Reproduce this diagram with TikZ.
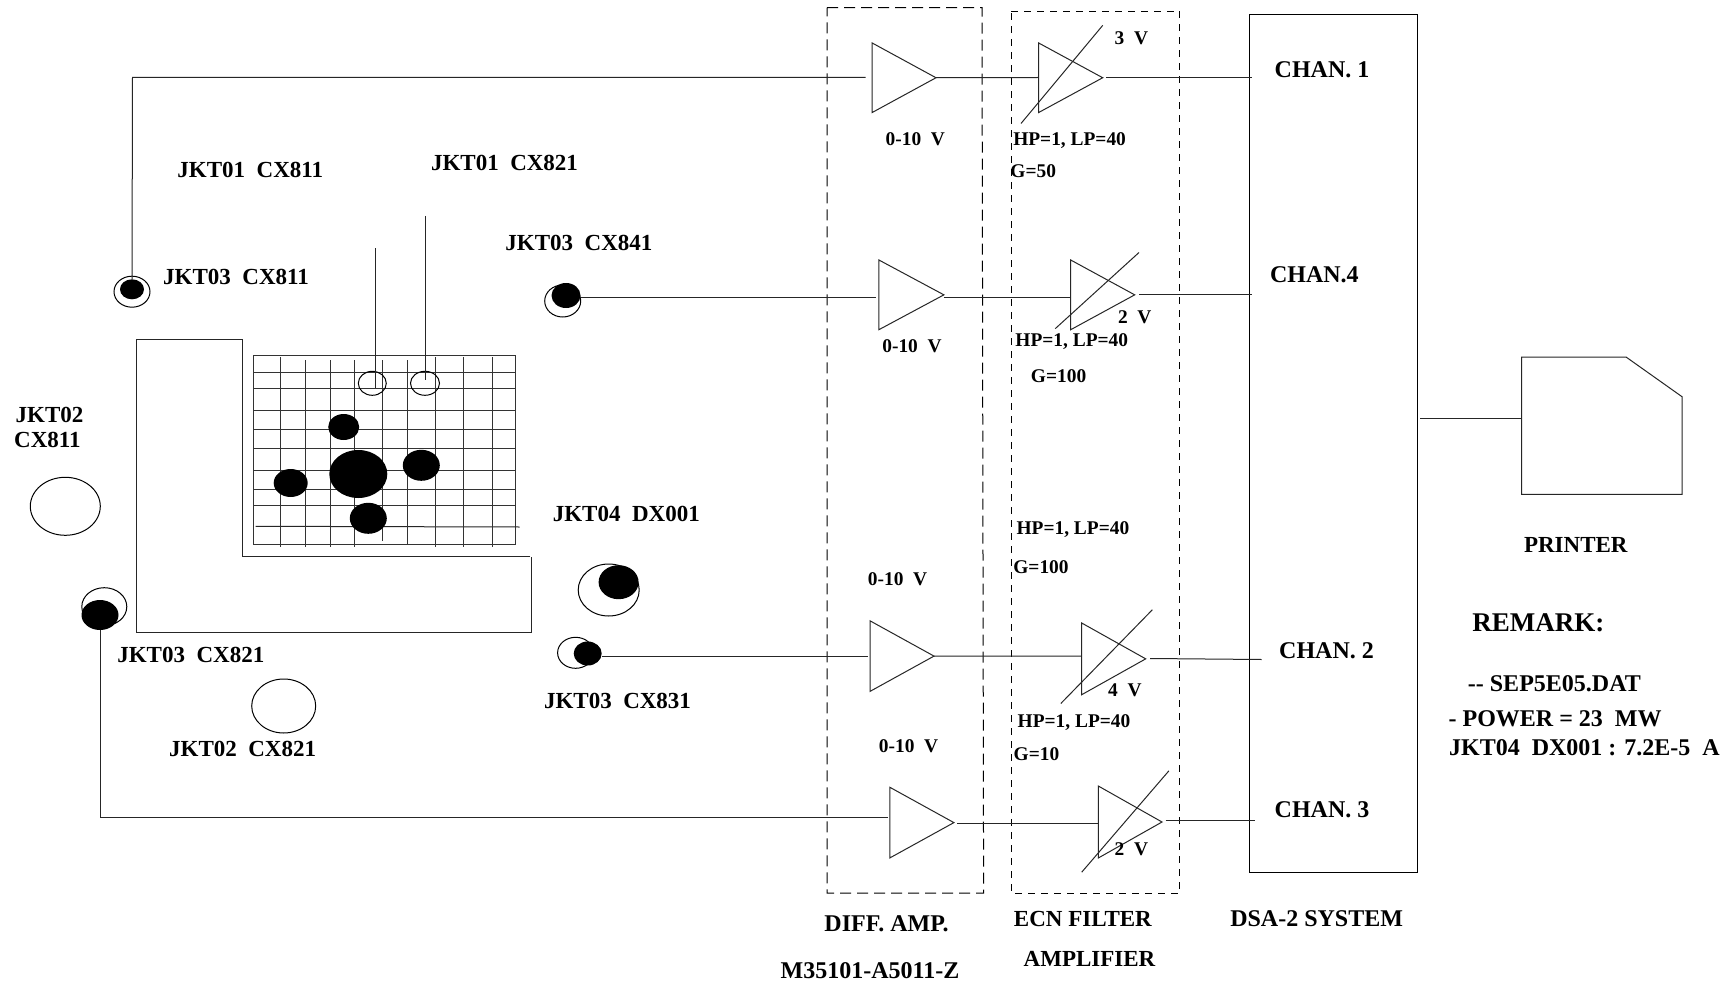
\documentclass[tikz,border=0pt]{standalone}
\usepackage{fontspec}
\setmainfont{Liberation Serif}
\usetikzlibrary{shapes.geometric}
\tikzset{
  wire/.style={line width=1pt,black!85},
  gridline/.style={line width=1pt,black!80},
  frame/.style={line width=1pt,black!85},
  longdash/.style={line width=1pt,dash pattern=on 11pt off 6pt},
  shortdash/.style={line width=.9pt,dash pattern=on 7pt off 6pt},
  hollow/.style={ellipse,draw,line width=1pt,inner sep=0pt,fill=white},
  solid dot/.style={ellipse,fill=black,inner sep=0pt},
  lab/.style={font=\bfseries\fontsize{23}{23}\selectfont,inner sep=0pt},
  sm/.style={font=\bfseries\fontsize{19.4}{20}\selectfont,inner sep=0pt},
  capt/.style={font=\bfseries\fontsize{24}{24}\selectfont,inner sep=0pt},
  big/.style={font=\bfseries\fontsize{27}{27}\selectfont,inner sep=0pt},
}
% name, x, top, bottom, tip x
\newcommand{\tri}[5]{%
  \coordinate (#1a) at (#2,#3);
  \coordinate (#1b) at (#2,#4);
  \coordinate (#1t) at (#5,{(#3+#4)/2});
  \draw[wire] (#1a) -- (#1t) -- (#1b) -- cycle;
}
\begin{document}
\begin{tikzpicture}[x=1pt,y=-1pt]
\useasboundingbox[fill=white] (0,0) rectangle (1729,984);

% enclosure
\draw[frame] (530.3,556.7) -- (242.3,556.7) -- (242.3,339) -- (136,339) -- (136,632.7) -- (531,632.7) -- (531,556.7);

% grid
\draw[gridline] (253.5,355.3) rectangle (515.7,544);
\foreach \yy in {372.3,388.7,410.7,429.3,448.7,470.3,489.3,505.7}
  \draw[gridline] (253.5,\yy) -- (515.7,\yy);
\draw[wire] (255.5,526.3) -- (519.5,527);
\foreach \xx/\ya/\yb in {280.7/357/547,305/360/547,330/360/547,354/360/547,382.7/360/541,407/360/544,435.7/357/547,463.7/357/547,492.3/357/547}
  \draw[gridline] (\xx,\ya) -- (\xx,\yb);

% array dots
\node[solid dot,minimum width=31pt,minimum height=26pt] (d1) at (343.7,427) {};
\node[solid dot,minimum width=58pt,minimum height=48pt] (d2) at (358.3,474) {};
\node[solid dot,minimum width=37pt,minimum height=31pt] (d3) at (421.3,465.3) {};
\node[solid dot,minimum width=34pt,minimum height=28pt] (d4) at (290.7,483) {};
\node[solid dot,minimum width=37pt,minimum height=31pt] (d5) at (368.3,518.3) {};
\node[hollow,fill=none,minimum width=28pt,minimum height=24pt] (c1) at (372.3,383.3) {};
\node[hollow,fill=none,minimum width=29pt,minimum height=24pt] (c2) at (425,383.3) {};
\coordinate (c1top) at (375.7,248.3);
\coordinate (c1end) at (375.7,388);
\coordinate (c2top) at (425,216);
\coordinate (c2end) at (425,380);
\draw[wire] (c1top) -- (c1end);
\draw[wire] (c2top) -- (c2end);

% sensors
\node[hollow,minimum width=36pt,minimum height=31pt] (s1h) at (132,291.7) {};
\node[solid dot,minimum width=24pt,minimum height=20pt] (s1) at (132,289.3) {};
\node[hollow,minimum width=36pt,minimum height=32pt] (s2h) at (562.7,301) {};
\node[solid dot,minimum width=29pt,minimum height=25pt] (s2) at (566,295.5) {};
\node[hollow,minimum width=36pt,minimum height=31pt] (s3h) at (575.6,652.8) {};
\node[solid dot,minimum width=28pt,minimum height=24pt] (s3) at (587.7,653.5) {};
\node[hollow,minimum width=45pt,minimum height=38pt] (s4h) at (104.3,606.7) {};
\node[solid dot,minimum width=37pt,minimum height=30pt] (s4) at (100,615) {};
\node[hollow,minimum width=61pt,minimum height=52pt] (s5h) at (608.7,590) {};
\node[solid dot,minimum width=40pt,minimum height=34pt] (s5) at (618.6,582.2) {};
\node[hollow,minimum width=70pt,minimum height=58pt] (e1) at (65.3,506.3) {};
\node[hollow,minimum width=64pt,minimum height=54pt] (e2) at (283.7,706) {};

% dashed groups
\draw[longdash] (827,7.7) -- (982,7.7) -- (983.6,893.2) -- (827,893.2) -- cycle;
\draw[shortdash] (1011.2,11) -- (1179.9,11) -- (1179.9,893.2) -- (1011.2,893.2) -- cycle;

% amplifiers and filters
\tri{a1}{872.2}{43}{112.5}{936}
\tri{f1}{1038.7}{43}{112.5}{1102.7}
\tri{a2}{878.9}{260}{329.7}{943.9}
\tri{f2}{1070.7}{260}{329.7}{1134.7}
\tri{a3}{870}{620.8}{691.4}{934}
\tri{f3}{1081.7}{623}{694.7}{1145.7}
\tri{a4}{889.9}{787.3}{857.9}{953.9}
\tri{f4}{1098.3}{786}{858}{1162}

\coordinate (k1a) at (1021,123.5);   \coordinate (k1b) at (1102.7,25.4);
\coordinate (k2a) at (1055.3,328.6); \coordinate (k2b) at (1139,252.5);
\coordinate (k3a) at (1060.8,703.5); \coordinate (k3b) at (1152.3,609.8);
\coordinate (k4a) at (1081.7,872.2); \coordinate (k4b) at (1168.9,770.8);
\draw[wire] (k1a) -- (k1b);
\draw[wire] (k2a) -- (k2b);
\draw[wire] (k3a) -- (k3b);
\draw[wire] (k4a) -- (k4b);

% system box and printer
\node[draw,line width=1pt,inner sep=0pt,minimum width=167.6pt,minimum height=857.3pt] (dsa) at (1333.2,443.5) {};
\coordinate (pa) at (1521.7,357);
\coordinate (pb) at (1626,357);
\coordinate (pc) at (1682,396.7);
\coordinate (pd) at (1682,494.3);
\coordinate (pe) at (1521.7,494.3);
\draw[frame] (pa) -- (pb) -- (pc) -- (pd) -- (pe) -- cycle;
\coordinate (pin) at (1521.7,418.3);
\coordinate (dsaout) at (1420,418.3);
\draw[wire] (dsaout) -- (pin);

% wires, row 1
\coordinate (w1) at (132.5,77.5);
\coordinate (w1e) at (865.6,77.5);
\draw[wire] (s1.north) -- (w1) -- (w1e);
\coordinate (w1m) at (1038.7,77.5);
\draw[wire] (a1t) -- (w1m);
\coordinate (o1a) at (1106,77.5);
\coordinate (o1b) at (1251.5,77.5);
\draw[wire] (o1a) -- (o1b);

% row 2
\coordinate (w2a) at (581,297.7);
\coordinate (w2e) at (876,297.7);
\draw[wire] (w2a) -- (w2e);
\coordinate (w2b) at (943.9,297.7);
\coordinate (w2m) at (1070.7,297.7);
\draw[wire] (w2b) -- (w2m);
\coordinate (o2a) at (1139,294.8);
\coordinate (o2b) at (1251.5,294.8);
\draw[wire] (o2a) -- (o2b);

% row 3
\coordinate (w3a) at (602,656);
\coordinate (w3e) at (868,656);
\draw[wire] (w3a) -- (w3e);
\coordinate (w3m) at (1081.7,656);
\draw[wire] (a3t) -- (w3m);
\coordinate (o3a) at (1150,658.5);
\coordinate (o3b) at (1261.5,659.5);
\draw[wire] (o3a) -- (o3b);

% row 4
\coordinate (w4) at (100,817.5);
\coordinate (w4e) at (888,817.5);
\draw[wire] (s4.south) -- (w4) -- (w4e);
\coordinate (w4a) at (957,823.7);
\coordinate (w4m) at (1098.3,823.7);
\draw[wire] (w4a) -- (w4m);
\coordinate (o4a) at (1165.5,820.4);
\coordinate (o4b) at (1254.8,820.4);
\draw[wire] (o4a) -- (o4b);

% sensor labels
\node[lab] (t1) at (250.3,169.8) {JKT01\ \ CX811};
\node[lab] (t2) at (504.5,163.2) {JKT01\ \ CX821};
\node[lab] (t3) at (236,276.8) {JKT03\ \ CX811};
\node[lab] (t4) at (578.9,242.6) {JKT03\ \ CX841};
\node[lab] (t5) at (49.6,414.6) {JKT02};
\node[lab] (t6) at (47.4,440) {CX811};
\node[lab] (t7) at (626.3,513.8) {JKT04\ \ DX001};
\node[lab] (t8) at (190.8,655) {JKT03\ \ CX821};
\node[lab] (t9) at (617.5,701.3) {JKT03\ \ CX831};
\node[lab] (t10) at (242.6,748.7) {JKT02\ \ CX821};

% amp labels
\node[sm] (v1) at (915.3,138.9) {0-10\ \ V};
\node[sm] (v2) at (912,346.2) {0-10\ \ V};
\node[sm] (v3) at (897.6,578.9) {0-10\ \ V};
\node[sm] (v4) at (908.6,746.5) {0-10\ \ V};
\node[sm] (g1) at (1131.4,38.6) {3\ \ V};
\node[sm] (g2) at (1134.7,317.6) {2\ \ V};
\node[sm] (g3) at (1124.8,690.3) {4\ \ V};
\node[sm] (g4) at (1131.4,849) {2\ \ V};
\node[sm] (h1) at (1069.6,140.8) {HP=1, LP=40};
\node[sm] (h2) at (1071.8,341.5) {HP=1, LP=40};
\node[sm] (h3) at (1072.9,530) {HP=1, LP=40};
\node[sm] (h4) at (1074,723) {HP=1, LP=40};
\node[sm] (q1) at (1033.2,170.9) {G=50};
\node[sm] (q2) at (1058.6,376) {G=100};
\node[sm] (q3) at (1041,566.8) {G=100};
\node[sm] (q4) at (1036.5,754.2) {G=10};

% channels
\node[capt] (ch1) at (1322,69.5) {CHAN. 1};
\node[capt] (ch4) at (1314.4,274.6) {CHAN.4};
\node[capt] (ch2) at (1326.5,650.6) {CHAN. 2};
\node[capt] (ch3) at (1322,809.4) {CHAN. 3};

% right side
\node[lab] (pr) at (1575.8,544.7) {PRINTER};
\node[big] (rm) at (1538.3,623) {REMARK:};
\node[capt,anchor=east] (r1) at (1641,683.7) {-{}- SEP5E05.DAT};
\node[capt,anchor=east] (r2) at (1661.8,719) {- POWER = 23\ \ MW};
\node[capt,anchor=east] (r3) at (1720,747.6) {JKT04\ \ DX001 : 7.2E-5\ \ A};

% bottom captions
\node[capt] (b1) at (886.6,924) {DIFF. AMP.};
\node[capt] (b2) at (870,970.4) {M35101-A5011-Z};
\node[capt,font=\bfseries\fontsize{23}{23}\selectfont] (b3) at (1082.9,918.6) {ECN FILTER};
\node[capt,font=\bfseries\fontsize{23}{23}\selectfont] (b4) at (1089.5,959.3) {AMPLIFIER};
\node[capt] (b5) at (1316.6,918.6) {DSA-2 SYSTEM};
\end{tikzpicture}
\end{document}
